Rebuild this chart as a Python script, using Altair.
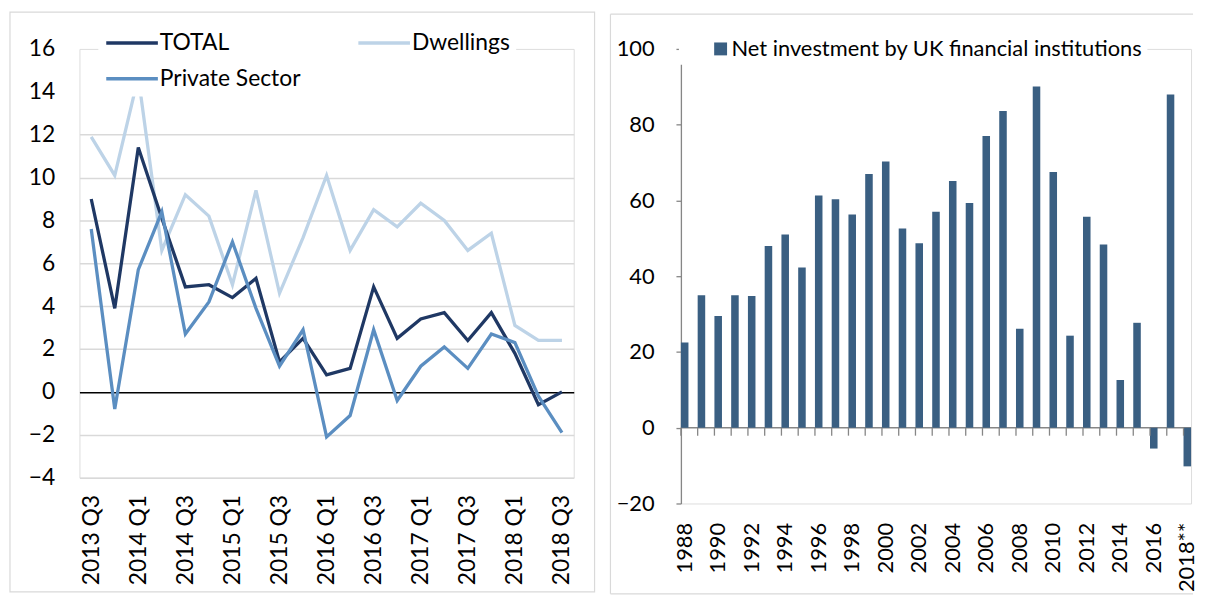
import altair as alt
import pandas as pd

# ---------------- data: left panel ----------------
quarters = ["2013 Q3", "2013 Q4", "2014 Q1", "2014 Q2", "2014 Q3", "2014 Q4",
            "2015 Q1", "2015 Q2", "2015 Q3", "2015 Q4", "2016 Q1", "2016 Q2",
            "2016 Q3", "2016 Q4", "2017 Q1", "2017 Q2", "2017 Q3", "2017 Q4",
            "2018 Q1", "2018 Q2", "2018 Q3"]
quarter_labels = ["2013 Q3", "2014 Q1", "2014 Q3", "2015 Q1", "2015 Q3", "2016 Q1",
                  "2016 Q3", "2017 Q1", "2017 Q3", "2018 Q1", "2018 Q3"]
total = [9.0, 3.9, 11.4, 8.1, 4.9, 5.0, 4.4, 5.3, 1.4, 2.5, 0.8, 1.1,
         4.9, 2.5, 3.4, 3.7, 2.4, 3.7, 1.8, -0.6, 0.0]
dwellings = [11.9, 10.1, 14.7, 6.6, 9.2, 8.2, 5.0, 9.4, 4.6, 7.2, 10.1, 6.6,
             8.5, 7.7, 8.8, 8.0, 6.6, 7.4, 3.1, 2.4, 2.4]
private_sector = [7.6, -0.8, 5.7, 8.4, 2.7, 4.2, 7.0, 3.9, 1.2, 2.9, -2.1, -1.1,
                  2.9, -0.4, 1.2, 2.1, 1.1, 2.7, 2.3, -0.2, -1.9]
series_names = ["TOTAL", "Dwellings", "Private Sector"]
series_colors = ["#1F3864", "#BDD3E7", "#5B8EC1"]
left_ticks = [-4, -2, 0, 2, 4, 6, 8, 10, 12, 14, 16]

# ---------------- data: right panel ----------------
years = ["1988", "1989", "1990", "1991", "1992", "1993", "1994", "1995", "1996",
         "1997", "1998", "1999", "2000", "2001", "2002", "2003", "2004", "2005",
         "2006", "2007", "2008", "2009", "2010", "2011", "2012", "2013", "2014",
         "2015", "2016", "2017", "2018**"]
year_labels = ["1988", "1990", "1992", "1994", "1996", "1998", "2000", "2002",
               "2004", "2006", "2008", "2010", "2012", "2014", "2016", "2018**"]
net_investment = [22.5, 35.0, 29.5, 35.0, 34.8, 48.0, 51.0, 42.3, 61.3, 60.3,
                  56.3, 67.0, 70.3, 52.6, 48.7, 57.0, 65.1, 59.3, 77.0, 83.6,
                  26.1, 90.1, 67.5, 24.3, 55.7, 48.4, 12.6, 27.7, -5.5, 88.0, -10.2]
bar_series = "Net investment by UK financial institutions"
right_ticks = [-20, 0, 20, 40, 60, 80, 100]

FONT = "Lato"
FS = 23

# ---------------- left panel ----------------
series_col = []
values_col = []
quarter_col = []
for name, vals in zip(series_names, [total, dwellings, private_sector]):
    series_col += [name] * len(quarters)
    values_col += vals
    quarter_col += quarters
df_left = pd.DataFrame({"quarter": quarter_col, "value": values_col, "series": series_col})

color_left = alt.Color(
    "series:N",
    scale=alt.Scale(domain=series_names, range=series_colors),
    legend=alt.Legend(
        title=None, orient="none", legendX=19, legendY=-27, columns=2,
        direction="horizontal",
        columnPadding=51, rowPadding=9, symbolType="M-2,0H2", symbolSize=676,
        symbolOffset=13, symbolStrokeWidth=3.5, labelOffset=13,
        labelFont=FONT, labelFontSize=FS, labelColor="black", labelLimit=400,
        fillColor="white", padding=6,
    ),
)

x_left = alt.X(
    "quarter:N", sort=quarters,
    scale=alt.Scale(type="point", padding=0.5),
    axis=alt.Axis(values=quarter_labels, labelAngle=270, domain=False, ticks=False,
                  grid=False, labelPadding=17, labelFont=FONT, labelFontSize=FS,
                  labelColor="black", title=None),
)
y_left = alt.Y(
    "value:Q", scale=alt.Scale(domain=[-4, 16], nice=False),
    axis=alt.Axis(values=left_ticks, title=None, domain=False, ticks=False,
                  labelFont=FONT, labelFontSize=FS, labelColor="black", labelPadding=25,
                  gridWidth=1.5,
                  gridColor={"condition": {"test": "datum.value === 0", "value": "#000000"},
                             "value": "#d9d9d9"},
                  gridOpacity={"condition": {"test": "datum.value > 12", "value": 0},
                               "value": 1}),
)

line_layers = []
for name in ["Dwellings", "TOTAL", "Private Sector"]:
    line_layers.append(
        alt.Chart(df_left).transform_filter(alt.datum.series == name)
        .mark_line(strokeWidth=3.3)
        .encode(x=x_left, y=y_left, color=color_left)
    )

frame_left = alt.Chart(alt.Data(values=[{"f": 1}])).mark_rect(
    fill="white", fillOpacity=0, stroke="#d9d9d9", strokeWidth=1.2
).encode(x=alt.value(-70), x2=alt.value(519), y=alt.value(-37), y2=alt.value(547))

left = alt.layer(frame_left, *line_layers).properties(width=498, height=432)

# ---------------- right panel ----------------
df_right = pd.DataFrame({"year": years, "value": net_investment,
                         "series": [bar_series] * len(years)})

x_right = alt.X(
    "year:N", sort=years,
    scale=alt.Scale(paddingInner=0.55, paddingOuter=0),
    axis=alt.Axis(values=year_labels, labelAngle=270, domain=False, ticks=False,
                  grid=False, labelPadding=19, labelFont=FONT, labelFontSize=FS - 1,
                  labelColor="black", title=None),
)
y_right = alt.Y(
    "value:Q", scale=alt.Scale(domain=[-20, 100], nice=False),
    axis=alt.Axis(values=right_ticks, title=None, domain=True, domainColor="#868686",
                  domainWidth=1.3, ticks=True, tickColor="#868686", tickSize=5,
                  tickWidth=1.3, labelFont=FONT, labelFontSize=FS - 1,
                  labelColor="black", labelPadding=22, gridColor="#d9d9d9",
                  gridWidth=1.5),
)

bars = alt.Chart(df_right).mark_bar().encode(
    x=x_right, y=y_right,
    color=alt.Color("series:N", scale=alt.Scale(domain=[bar_series], range=["#3A5F82"]),
                    legend=alt.Legend(title=None, orient="none", legendX=-2, legendY=-16,
                                      symbolType="square", symbolSize=169,
                                      symbolStrokeWidth=0, symbolOffset=26, labelOffset=0,
                                      labelFont=FONT, labelFontSize=FS - 1,
                                      labelColor="black", labelLimit=600,
                                      fillColor="white", padding=5)),
)

zero_line = alt.Chart(alt.Data(values=[{"z": 0}])).mark_rule(
    color="#868686", strokeWidth=1.5
).encode(y=alt.datum(0))

zero_ticks = alt.Chart(df_right).mark_rule(
    color="#868686", strokeWidth=1.3, y2Offset=8
).encode(x=alt.X("year:N", sort=years, bandPosition=0), y=alt.datum(0), y2=alt.datum(0))

RW = 514
frame_r_top = alt.Chart(alt.Data(values=[{"f": 1}])).mark_rule(
    color="#d9d9d9", strokeWidth=1.2
).encode(x=alt.value(-71), x2=alt.value(RW + 2), y=alt.value(-35))
frame_r_left = alt.Chart(alt.Data(values=[{"f": 1}])).mark_rule(
    color="#d9d9d9", strokeWidth=1.2
).encode(x=alt.value(-71), y=alt.value(-35), y2=alt.value(549))
frame_r_bottom = alt.Chart(alt.Data(values=[{"f": 1}])).mark_rule(
    color="#d9d9d9", strokeWidth=1.2
).encode(x=alt.value(-71), x2=alt.value(RW + 2), y=alt.value(549))

right = alt.layer(frame_r_top, frame_r_left, frame_r_bottom, zero_line, bars,
                  zero_ticks).properties(width=RW, height=458)

chart = alt.hconcat(left, right, spacing=12).resolve_scale(
    color="independent"
).resolve_legend(color="independent").properties(
    padding=0
).configure_view(stroke="transparent").configure(font=FONT)

chart.save("out.html", embed_options={"renderer": "svg", "actions": False})
